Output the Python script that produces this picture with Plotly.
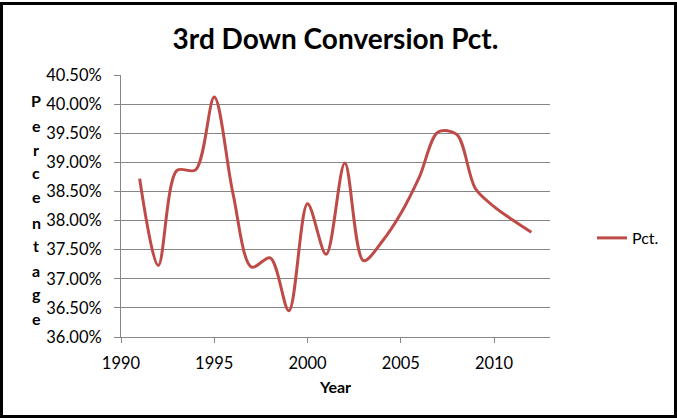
import plotly.graph_objects as go

years = [1991, 1992, 1993, 1994, 1995, 1996, 1997, 1998, 1999, 2000, 2001,
         2002, 2003, 2004, 2005, 2006, 2007, 2008, 2009, 2010, 2011, 2012]
pct = [38.72, 37.23, 38.86, 38.87, 40.12, 38.47, 37.20, 37.36, 36.45, 38.29, 37.42,
       38.99, 37.31, 37.64, 38.12, 38.75, 39.52, 39.48, 38.55, 38.24, 38.01, 37.80]
y_ticks = [36.0, 36.5, 37.0, 37.5, 38.0, 38.5, 39.0, 39.5, 40.0, 40.5]
y_tick_labels = ["%.2f%%" % v for v in y_ticks]
x_ticks = [1990, 1995, 2000, 2005, 2010]
y_title = "Percentage"

W, H = 677, 419
L, R, T, B = 121, 127, 75, 82
pw, ph = W - L - R, H - T - B

FONT = "Lato, 'Open Sans', sans-serif"

fig = go.Figure()
fig.add_trace(go.Scatter(
    x=years, y=pct, mode="lines", name="Pct.",
    line=dict(color="#BE4B48", width=3, shape="spline", smoothing=0.9),
))

fig.update_layout(
    width=W, height=H,
    margin=dict(l=L, r=R, t=T, b=B),
    paper_bgcolor="white", plot_bgcolor="white",
    font=dict(family=FONT, size=16, color="black"),
    title=dict(text="<b>3rd Down Conversion Pct.</b>", x=0.5, xref="paper",
               y=1 - 39 / H, yanchor="middle",
               font=dict(family=FONT, size=28, color="black")),
    showlegend=True,
    legend=dict(x=(592 - L) / pw, y=1 - (238 - T) / ph,
                xanchor="left", yanchor="middle", bgcolor="rgba(0,0,0,0)",
                font=dict(family=FONT, size=16), itemwidth=30),
    xaxis=dict(range=[1990, 2013], tickvals=x_ticks, showgrid=False,
               showline=True, linecolor="#868686", linewidth=1,
               ticks="outside", ticklen=5, tickcolor="#868686",
               ticklabelstandoff=6,
               tickfont=dict(family=FONT, size=16.5), zeroline=False,
               title=dict(text="<b>Year</b>", font=dict(family=FONT, size=16), standoff=10)),
    yaxis=dict(range=[36.0, 40.5], tickvals=y_ticks, ticktext=y_tick_labels,
               showgrid=True, gridcolor="#868686", gridwidth=1,
               showline=True, linecolor="#868686", linewidth=1,
               ticks="outside", ticklen=6, tickcolor="#868686",
               ticklabelstandoff=9,
               tickfont=dict(family=FONT, size=16.5), zeroline=False),
)

# stacked vertical axis title
letter_y = [100, 125, 149, 172, 196, 222, 245, 270, 293, 318]
for ch, py in zip(y_title, letter_y):
    fig.add_annotation(text="<b>%s</b>" % ch, xref="paper", yref="paper",
                       x=(36 - L) / pw, y=1 - (py - T) / ph, showarrow=False,
                       xanchor="center", yanchor="middle",
                       font=dict(family=FONT, size=16, color="black"))

# outer border
fig.add_shape(type="rect", xref="paper", yref="paper",
              x0=(1.5 - L) / pw, x1=(675.5 - L) / pw,
              y0=1 - (416.5 - T) / ph, y1=1 - (3.5 - T) / ph,
              line=dict(color="black", width=3), layer="above")

fig.write_html("out.html", config={"displayModeBar": False},
               post_script="document.body.style.margin='0';document.body.style.overflow='hidden';")
